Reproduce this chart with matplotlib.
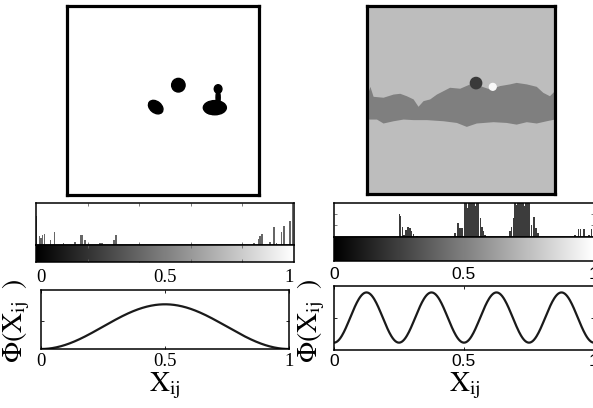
import numpy as np
import matplotlib
matplotlib.use("Agg")
from matplotlib import pyplot as plt
from matplotlib.patches import Ellipse

plt.rcParams['mathtext.fontset'] = 'stix'

# histogram bins (x position, bar height as fraction of panel)
left_bin_x = [0.003, 0.013, 0.019, 0.026, 0.032, 0.057, 0.071, 0.106, 0.151, 0.173, 0.178, 0.190, 0.248, 0.256,
              0.302, 0.310, 0.845, 0.862, 0.868, 0.876, 0.907, 0.922, 0.933, 0.951, 0.961, 0.984, 0.995]
left_bin_h = [0.68, 0.20, 0.16, 0.24, 0.26, 0.10, 0.30, 0.04, 0.06, 0.22, 0.24, 0.12, 0.04, 0.04,
              0.12, 0.22, 0.04, 0.14, 0.20, 0.26, 0.06, 0.42, 0.04, 0.30, 0.44, 0.56, 1.0]

right_bin_x = [0.251, 0.256, 0.263, 0.269, 0.277, 0.285, 0.292, 0.298, 0.305, 0.320,
               0.465, 0.476, 0.482, 0.488, 0.495,
               0.502, 0.508, 0.514, 0.520, 0.526, 0.532, 0.538, 0.544, 0.550, 0.556,
               0.564, 0.569, 0.574, 0.580,
               0.677, 0.683, 0.690,
               0.696, 0.702, 0.708, 0.714, 0.720, 0.726, 0.732, 0.738, 0.744, 0.750,
               0.760, 0.769, 0.777, 0.785,
               0.926, 0.940, 0.949, 0.962, 0.980, 0.990]
right_bin_h = [0.67, 0.63, 0.31, 0.08, 0.20, 0.31, 0.27, 0.17, 0.10, 0.05,
               0.12, 0.41, 0.27, 0.27, 0.27,
               1.2, 1.2, 0.85, 1.2, 1.2, 1.2, 1.2, 0.9, 1.2, 1.2,
               0.55, 0.31, 0.17, 0.08,
               0.17, 0.31, 0.55,
               1.2, 0.95, 1.2, 1.2, 1.2, 1.2, 0.9, 1.2, 1.2, 1.2,
               0.36, 0.60, 0.27, 0.12,
               0.06, 0.24, 0.24, 0.24, 0.08, 0.24]

# left snapshot: black blobs (x, y, width, height, angle)
blob_x = [0.580, 0.462, 0.770, 0.787, 0.787, 0.745]
blob_y = [0.419, 0.535, 0.538, 0.439, 0.485, 0.545]
blob_w = [0.070, 0.085, 0.120, 0.040, 0.022, 0.050]
blob_h = [0.072, 0.060, 0.075, 0.045, 0.075, 0.050]
blob_a = [0, 40, 0, 0, 0, 0]

# right snapshot: darker band edges and two dots
band_top_x = [0, 0.018, 0.035, 0.088, 0.142, 0.177, 0.212, 0.248, 0.274, 0.301, 0.336, 0.372, 0.407,
              0.442, 0.496, 0.549, 0.602, 0.655, 0.708, 0.761, 0.796, 0.85, 0.903, 0.938, 0.973, 1.0]
band_top_y = [0.488, 0.43, 0.483, 0.488, 0.471, 0.467, 0.48, 0.497, 0.536, 0.506, 0.497, 0.471, 0.453,
              0.435, 0.44, 0.417, 0.426, 0.444, 0.426, 0.417, 0.409, 0.417, 0.43, 0.462, 0.48, 0.453]
band_bot_x = [0, 0.053, 0.088, 0.142, 0.195, 0.248, 0.319, 0.407, 0.478, 0.531, 0.584, 0.673, 0.743,
              0.796, 0.85, 0.903, 0.956, 1.0]
band_bot_y = [0.604, 0.604, 0.625, 0.613, 0.604, 0.607, 0.607, 0.613, 0.622, 0.643, 0.625, 0.618, 0.622,
              0.631, 0.618, 0.625, 0.613, 0.604]
dot_x = [0.58, 0.669]
dot_y = [0.41, 0.43]
dot_r = [0.030, 0.018]
dot_c = ['#3a3a3a', '#f8f8f8']

# number of wells of the potential Phi on [0, 1]
periods_left = 1
periods_right = 4

W, H = 593, 408
fig = plt.figure(figsize=(W / 100, H / 100), dpi=100)


def box(x0, y0, x1, y1):
    # pixel box (top-left origin) -> figure fraction
    return [x0 / W, (H - y1) / H, (x1 - x0) / W, (y1 - y0) / H]


def phi(x, n):
    return (1 - np.cos(2 * np.pi * n * x)) / 2


# snapshots
ax = fig.add_axes(box(67, 6, 259, 195))
ax.set_facecolor('white')
for i in range(len(blob_x)):
    ax.add_patch(Ellipse((blob_x[i], blob_y[i]), blob_w[i], blob_h[i], angle=blob_a[i], color='black'))
ax.set_xlim(0, 1)
ax.set_ylim(1, 0)
ax.set_xticks([])
ax.set_yticks([])
for s in ax.spines.values():
    s.set_linewidth(2.3)

ax = fig.add_axes(box(367, 6, 555, 194))
ax.set_facecolor('#bdbdbd')
ax.fill(np.r_[band_top_x, band_bot_x[::-1]], np.r_[band_top_y, band_bot_y[::-1]], color='#7f7f7f', lw=0)
for i in range(len(dot_x)):
    ax.add_patch(plt.Circle((dot_x[i], dot_y[i]), dot_r[i], color=dot_c[i]))
ax.set_xlim(0, 1)
ax.set_ylim(1, 0)
ax.set_xticks([])
ax.set_yticks([])
for s in ax.spines.values():
    s.set_linewidth(2.3)

grad = np.linspace(0, 1, 256).reshape(1, -1)


def hist_panel(rect, xs, hs, width, color, yt):
    a = fig.add_axes(rect)
    a.bar(xs, hs, width=width, color=color, lw=0)
    a.set_xlim(0, 1)
    a.set_ylim(0, 1)
    a.set_xticks([0.2, 0.4, 0.6, 0.8] if not yt else [])
    a.set_yticks(yt)
    a.tick_params(direction='in', length=2, top=True, right=True, labelbottom=False, labelleft=False,
                  width=0.6, color='#666')
    for s in a.spines.values():
        s.set_linewidth(1.1)
    return a


def cbar_panel(rect, xt):
    a = fig.add_axes(rect)
    a.imshow(grad, cmap='gray', aspect='auto', extent=(0, 1, 0, 1))
    a.set_xlim(0, 1)
    a.set_ylim(0, 1)
    a.set_xticks(xt)
    a.set_yticks([])
    a.tick_params(direction='in', length=2, top=True, labelbottom=False, width=0.6, color='#666')
    for s in a.spines.values():
        s.set_linewidth(1.1)
    return a


hist_panel(box(36, 203, 294, 244.5), left_bin_x, left_bin_h, 0.005, '#666666', [])
cbar_panel(box(36, 244.5, 294, 262), [0.2, 0.4, 0.6, 0.8])
hist_panel(box(334, 203, 594, 237.3), right_bin_x, right_bin_h, 0.0058, '#3c3c3c', [0.35, 0.67])
cbar_panel(box(334, 237.3, 594, 261), [])

xx = np.linspace(0, 1, 400)


def curve_panel(rect, n, ylim, ytick, font, fs, lx, ly):
    a = fig.add_axes(rect)
    a.plot(xx, phi(xx, n), color='#1a1a1a', lw=1.6)
    a.set_xlim(0, 1)
    a.set_ylim(*ylim)
    a.set_xticks([0, 0.5, 1])
    a.set_xticklabels(['0', '0.5', '1'], family=font, fontsize=fs)
    a.set_yticks([ytick])
    a.tick_params(direction='in', length=2, top=True, right=True, labeltop=True, labelleft=False,
                  width=0.6, pad=3)
    for s in a.spines.values():
        s.set_linewidth(1.1)
    fig.text(lx, 1 - 386 / H, r'$\mathrm{X}_{\mathrm{ij}}$', fontsize=20, ha='center', va='center')
    fig.text(ly, 1 - 321 / H, r'$\Phi(\mathrm{X}_{\mathrm{ij}}\;\;)$', fontsize=20, rotation=90,
             ha='center', va='center')
    return a


curve_panel(box(41, 290, 289, 349), periods_left, (0, 1.32), 0.63, 'Liberation Serif', 13.5,
            165 / W, 16 / W)
curve_panel(box(334, 286, 594, 350), periods_right, (-0.146, 1.128), 0.5, 'Liberation Sans', 12.5,
            465 / W, 311 / W)

fig.savefig('out.png', dpi=100)
